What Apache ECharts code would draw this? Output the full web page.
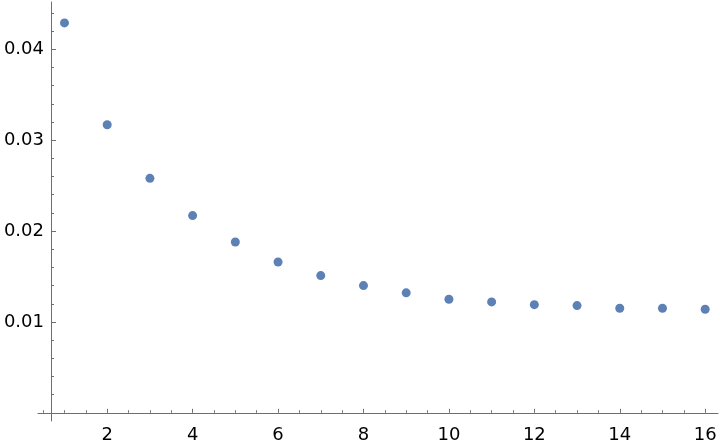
<!DOCTYPE html>
<html>
<head>
<meta charset="utf-8">
<script src="https://cdn.jsdelivr.net/npm/echarts@6/dist/echarts.min.js"></script>
<style>
  html, body { margin: 0; padding: 0; background: #ffffff; }
  #chart { width: 720px; height: 444px; }
</style>
</head>
<body>
<div id="chart"></div>
<script>
// values
const xValues = [1, 2, 3, 4, 5, 6, 7, 8, 9, 10, 11, 12, 13, 14, 15, 16]
const yValues = [0.0429, 0.0317, 0.0258, 0.0217, 0.0188, 0.0166, 0.0151, 0.0140,
  0.0132, 0.0125, 0.0122, 0.0119, 0.0118, 0.0115, 0.0115, 0.0114]

// tick positions
const xMajor = [2, 4, 6, 8, 10, 12, 14, 16]
const xMinor = [0.5, 1, 1.5, 2.5, 3, 3.5, 4.5, 5, 5.5, 6.5, 7, 7.5, 8.5, 9, 9.5,
  10.5, 11, 11.5, 12.5, 13, 13.5, 14.5, 15, 15.5]
const yMajor = [0.01, 0.02, 0.03, 0.04]
const yMinor = [0.002, 0.004, 0.006, 0.008, 0.012, 0.014, 0.016, 0.018,
  0.022, 0.024, 0.026, 0.028, 0.032, 0.034, 0.036, 0.038, 0.042, 0.044]

const points = xValues.map((x, i) => [x, yValues[i]])

const chart = echarts.init(document.getElementById('chart'))
const axisColor = '#6e6e6e'
const labelFont = { color: '#000000', fontSize: 18, fontFamily: 'DejaVu Sans' }

const xRange = { min: 0.38, max: 16.3 }
const yRange = { min: -0.0009, max: 0.0452 }

chart.setOption({
  animation: false,
  grid: { left: 38, right: 2, top: 2, bottom: 23, containLabel: false, outerBoundsMode: 'none' },
  xAxis: [{
    type: 'value',
    min: xRange.min,
    max: xRange.max,
    axisLine: { show: true, onZero: true, lineStyle: { color: axisColor, width: 1 } },
    axisTick: { show: true, inside: true, length: 4, customValues: xMajor, lineStyle: { color: axisColor } },
    splitLine: { show: false },
    axisLabel: Object.assign({ margin: 5, customValues: xMajor }, labelFont)
  }, {
    type: 'value',
    position: 'bottom',
    min: xRange.min,
    max: xRange.max,
    axisLine: { show: false, onZero: true },
    axisTick: { show: true, inside: true, length: 2.5, customValues: xMinor, lineStyle: { color: axisColor } },
    splitLine: { show: false },
    axisLabel: { show: false }
  }],
  yAxis: [{
    type: 'value',
    min: yRange.min,
    max: yRange.max,
    offset: -13,
    axisLine: { show: true, onZero: false, lineStyle: { color: axisColor, width: 1 } },
    axisTick: { show: true, inside: true, length: 5, customValues: yMajor, lineStyle: { color: axisColor } },
    splitLine: { show: false },
    axisLabel: Object.assign({ margin: 7, customValues: yMajor,
      formatter: v => v.toFixed(2) }, labelFont)
  }, {
    type: 'value',
    position: 'left',
    min: yRange.min,
    max: yRange.max,
    offset: -13,
    axisLine: { show: false, onZero: false },
    axisTick: { show: true, inside: true, length: 3, customValues: yMinor, lineStyle: { color: axisColor } },
    splitLine: { show: false },
    axisLabel: { show: false }
  }],
  series: [{
    type: 'scatter',
    data: points,
    symbolSize: 9,
    itemStyle: { color: '#5e81b5', opacity: 1 }
  }]
})
</script>
</body>
</html>
